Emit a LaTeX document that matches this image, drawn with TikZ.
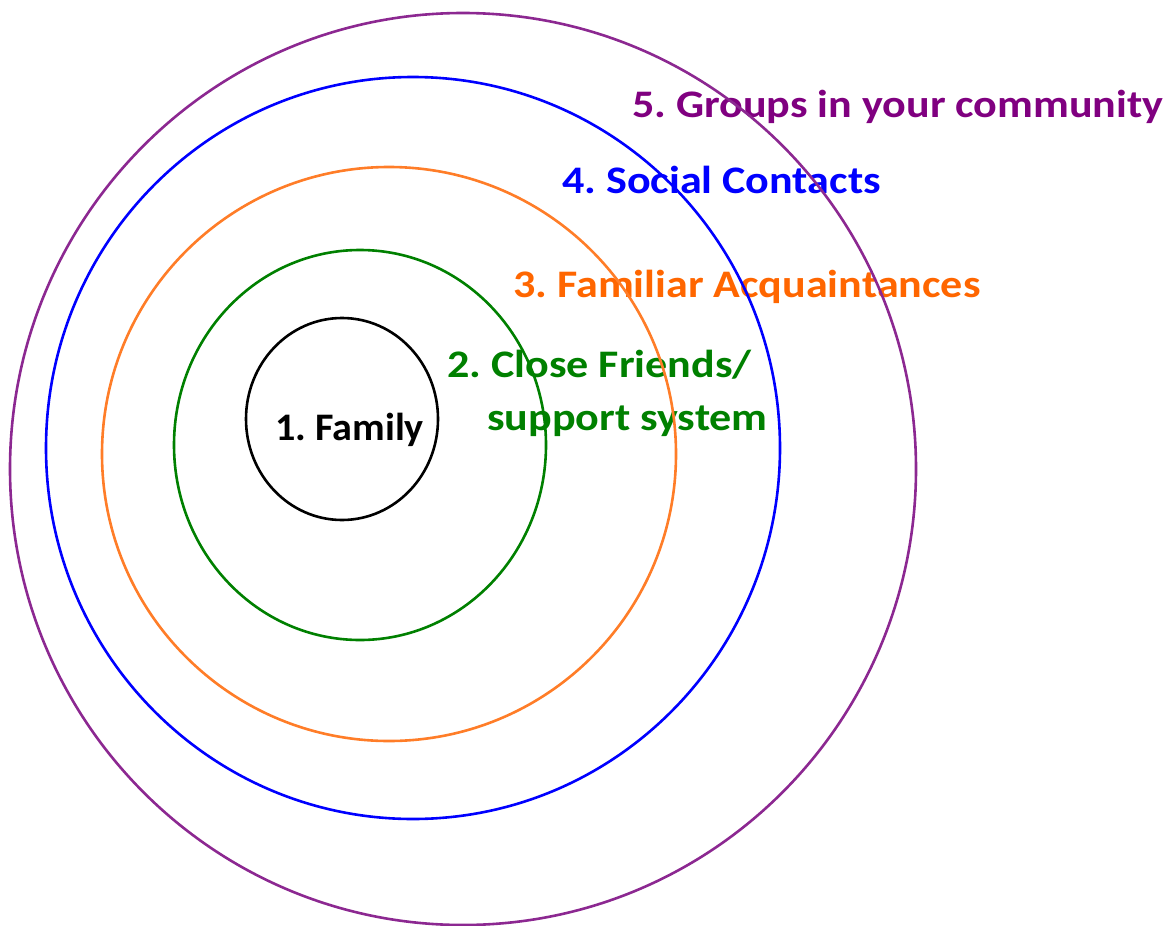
\documentclass[tikz,border=0pt]{standalone}
\usepackage{fontspec}
\setmainfont{Carlito}[FakeStretch=1.13]
\newfontfamily\narrowfam{Carlito}[FakeStretch=1.03]
\definecolor{cpurple}{RGB}{128,0,128}
\definecolor{cpurpleline}{RGB}{140,40,145}
\definecolor{cblue}{RGB}{0,0,255}
\definecolor{corange}{RGB}{255,102,0}
\definecolor{corangeline}{RGB}{255,125,40}
\definecolor{cgreen}{RGB}{0,128,0}
\tikzset{
  ring/.style={line width=2.6pt},
  lbl/.style={font=\fontsize{39}{46}\selectfont\bfseries\frenchspacing, anchor=base west, inner sep=0pt}
}
\begin{document}
\begin{tikzpicture}[x=1pt,y=-1pt]
\useasboundingbox (0,0) rectangle (1170,926);
\begin{scope}
\clip (600,60) rectangle (1170,124);
\node[lbl, text=cpurple] (t5) at (632,117) {5. Groups in your community};
\end{scope}
\node[lbl, text=cblue] (t4) at (562,193) {4. Social Contacts};
\node[lbl, text=corange] (t3) at (513,297) {3. Familiar Acquaintances};
\node[lbl, text=cgreen] (t2a) at (447,377) {2. Close Friends/};
\node[lbl, text=cgreen] (t2b) at (487,430) {support system};
\node[lbl, text=black, font=\fontsize{39}{46}\narrowfam\bfseries\frenchspacing] (t1) at (275,440) {1. Family};
\draw[ring, black] (342,419) ellipse [x radius=96, y radius=101];
\draw[ring, cgreen] (360,445) ellipse [x radius=186, y radius=195];
\draw[ring, corangeline] (389,454) ellipse [x radius=287, y radius=287];
\draw[ring, cblue] (413,448) ellipse [x radius=367, y radius=371];
\draw[ring, cpurpleline] (463,469) ellipse [x radius=453, y radius=456];
\end{tikzpicture}
\end{document}
